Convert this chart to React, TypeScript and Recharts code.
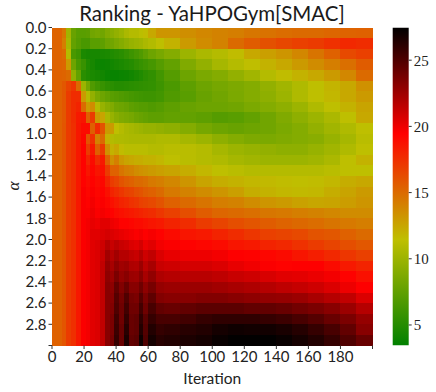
import { Bar, BarChart, Label, XAxis, YAxis } from "recharts";

// first iteration of each column block, the last block runs to 200
const colStarts = [0, 6, 9, 12, 15, 18, 21, 24, 27, 30, 33, 36, 39, 42, 45, 48, 51, 54, 57, 60, 65, 70, 80, 90, 100, 110, 120, 130, 140, 150, 160, 170, 180, 190];
const alphas = [0.0, 0.1, 0.2, 0.3, 0.4, 0.5, 0.6, 0.7, 0.8, 0.9, 1.0, 1.1, 1.2, 1.3, 1.4, 1.5, 1.6, 1.7, 1.8, 1.9, 2.0, 2.1, 2.2, 2.3, 2.4, 2.5, 2.6, 2.7, 2.8, 2.9];
const xTicks = [0, 20, 40, 60, 80, 100, 120, 140, 160, 180, 200];
const yTicks = [0, 0.2, 0.4, 0.6, 0.8, 1.0, 1.2, 1.4, 1.6, 1.8, 2.0, 2.2, 2.4, 2.6, 2.8, 3.0];
const barTicks = [5, 10, 15, 20, 25];
const barRange = [3.45, 27.47];
const cmapColors = ["#008000", "#bfbf00", "#ff0000", "#000000"];

const rankings = [
  [15.3,14.5,10.2,7.8,7.2,7.2,7.3,8.2,8.4,8.2,8.8,9.2,9.6,10,10.6,11,11,11.3,11.6,12.4,13.2,13.2,13.5,13.8,14,14.2,14.5,14.7,14.9,15,15,15.2,15.3,15.4],
  [15.3,14.2,10.5,7.6,7,6.5,6.5,7.2,7.2,7.4,8,8.2,8.6,9,9.4,9.8,10,10.2,10.6,10.9,11.4,12,13,13.6,14,15,15.6,16.1,16.5,16.8,17,17.4,17.8,17.6],
  [15.3,15,11,6.5,6,4.6,4.4,4.4,4.4,4.5,4.6,4.8,5,5.2,5.6,6,6.4,6.8,7.4,8,8.5,9,10,10.6,11,11.6,12.4,12.8,13.2,13.8,14.6,15.4,16.4,16.8],
  [15.3,15.2,13,8,6.5,5.8,4.8,4.4,4,3.9,4,4.2,4.4,4.6,4.8,5,5.4,5.7,6,6.4,7,7.6,8.8,9.6,10.4,11,11.5,12,12.4,13,13.6,14.2,14.8,15.6],
  [15.4,15.3,15,9.5,7.6,5.2,4.8,4.6,4.4,4.2,3.9,3.8,3.8,3.9,4,4.2,4.5,4.8,5.2,5.5,6.2,7,8,8.6,9,9.6,10.2,11,11.6,12,12.4,13,13.8,15],
  [15.4,15.8,16.6,17.2,15,10,8.4,6.8,6.2,5.8,5.4,5.2,5,5,5.1,5.2,5.3,5.4,5.5,5.6,6,6.6,7.4,8,8.4,8.7,9,9.6,10.2,10.8,11.4,11.9,12.4,13.4],
  [15.4,15.8,17,17.6,17.6,13,11,9.6,8.6,8,7.6,7.2,7,6.8,6.6,6.4,6.2,6.1,6,6,6.2,6.8,7.2,7.8,8.2,8.6,9,9.4,10,10.8,11.4,11.8,12.4,13],
  [15.4,15.8,17,17.6,18,15,13,13.6,11,9.8,9.2,8.8,8.2,8,7.8,7.4,7.2,7,7,6.8,7,7.4,7.8,8,8,8.2,8.6,9,9.4,10,10.8,11.4,12,12.6],
  [15.4,15.8,17,17.6,18.4,18.6,15.5,17,13,12.6,10.6,9.8,9.2,8.8,8.6,8.4,8,7.8,7.6,7.4,7.4,7.6,7.6,7.4,7,7.2,7.6,8.2,8.8,9.4,10,10.6,11.4,12.4],
  [15.4,15.9,17,17.5,18.5,19,19,15.5,17.6,16,13,13,11.4,11,10.6,10.4,10.2,10,9.8,9.8,9.6,9.4,9,8.4,8,7.8,8,8.2,8.6,9,9.6,10.2,10.8,11.4],
  [15.4,15.9,17,17.5,18.5,19.2,16,17.4,14,15,12,11,10.8,10.8,10.7,10.6,10.6,10.6,10.6,10.6,10.8,10.8,10.4,10,9.4,9,8.7,8.6,8.8,9,9.2,9.8,10.4,11.2],
  [15.4,15.9,17,17.5,18.5,19.4,17,18.4,15.5,17,13.4,12,12.4,11.6,11.2,11.2,11.2,11.2,11.2,11,11,11.2,11.2,11,10.4,10,9.8,9.6,9.4,9.4,9.8,10.2,10.8,11.4],
  [15.4,15.9,17,17.5,18.5,19.4,18,19,17.6,18.4,15.4,13.4,14.2,13,12.6,12.4,12.2,12.2,12,12,11.8,11.4,11.2,11,10.8,10.4,10.2,10,10,10,10.2,10.6,11.4,12],
  [15.4,15.9,17,17.5,18.5,19.4,18.6,19.2,18.6,18.8,17,15.4,15.4,14.6,14.2,14,13.6,13.4,13.2,13,12.8,12.6,12.2,11.8,11.4,11.2,11,11,11,11,11,11.2,11.4,11.4],
  [15.4,15.9,17,17.5,18.5,19.4,19,19.4,19,19.2,18,17,16.6,16,15.6,15.4,15,15,14.8,14.4,14.2,13.8,13.2,12.6,12.2,12,11.8,11.7,11.6,11.5,11.6,11.8,12.2,12.4],
  [15.4,15.9,17,17.5,18.5,19.6,19.2,19.6,19.2,19.4,18.8,18,17.6,17.2,16.8,16.6,16.2,16,15.6,15.4,15,14.4,14,13.6,13.2,12.8,12.2,12,11.8,11.7,11.8,12.2,12.6,13],
  [15.4,15.9,17,17.5,18.5,19.6,19.4,19.8,19.4,19.6,19.2,18.8,18.4,18,17.8,17.4,17.2,16.8,16.6,16.4,16,15.4,15,14.6,14.2,14,13.6,13.2,13,12.7,12.5,12.6,12.9,13.2],
  [15.4,15.9,17,17.5,18.5,19.6,19.6,20,19.6,19.8,19.6,19.4,19,18.8,18.6,18.4,18.2,18,17.8,17.6,17.2,16.8,16.2,15.6,15.2,15,14.8,14.5,14.4,14.2,14,13.8,13.6,13.6],
  [15.4,15.9,17,17.5,18.5,19.6,19.8,20.2,20,20.4,20.4,20,19.8,19.4,19.4,19.2,19,19,18.8,18.6,18.4,18,17.6,17,16.6,16.2,15.9,15.6,15.3,15.1,14.9,14.6,14.4,14.2],
  [15.4,15.9,17,17.5,18.5,19.6,19.8,20.4,20.4,20.6,20.8,20.6,20.4,20.2,20,19.8,19.6,19.8,19.5,19.7,19.4,19,18.6,18.4,18,17.6,17.2,16.8,16.6,16.4,16,15.8,15.4,15],
  [15.4,15.9,17,17.5,18.5,19.6,19.8,20.4,20.6,21,21.8,21.2,21.6,21.2,21,20.6,20.4,20.8,20.1,20.4,19.8,19.6,19.4,19.2,19,18.6,18.4,18,17.8,17.4,17,16.6,16.2,15.8],
  [15.4,15.9,17,17.5,18.5,19.6,19.8,20.4,20.6,21.2,22.4,21.8,22.4,21.8,21.8,21.4,21.2,21.8,21,21.4,20.6,20.2,20,20,19.8,19.5,19.4,19.2,19,18.6,18.2,17.8,17.2,16.8],
  [15.4,15.9,17,17.5,18.5,19.6,19.8,20.4,20.6,21.4,22.8,22.2,23,22.4,22.6,22,21.9,22.6,21.6,22.2,21.2,21,20.8,20.8,20.6,20.2,19.9,19.6,19.4,19.5,19.5,19,18.4,18],
  [15.4,15.9,17,17.5,18.5,19.6,19.8,20.4,20.6,21.4,23,22.6,23.6,22.8,23.2,22.6,22.5,23.2,22.2,22.9,22,21.8,21.7,21.7,21.5,21.2,21,20.7,20.4,20.3,20.1,19.8,19.4,18.8],
  [15.4,15.9,17,17.5,18.5,19.6,19.8,20.4,20.6,21.4,23.2,23,24.4,23.4,24.2,23.2,23.2,24,23,23.7,22.8,22.6,22.6,22.6,22.4,22.2,22,21.8,21.5,21.3,21,20.6,20,19.5],
  [15.4,15.9,17,17.5,18.5,19.6,19.8,20.4,20.6,21.4,23.2,23.2,24.8,23.8,25,23.8,23.6,24.8,23.6,24.5,23.4,23.2,23.2,23.4,23.4,23.2,23,22.9,22.8,22.6,22.2,21.8,21.4,20.6],
  [15.4,15.9,17,17.5,18.5,19.6,19.8,20.4,20.6,21.4,23.2,23.4,25,24,25.4,24,24,25.4,24,25.2,24.4,24.2,24.4,24.6,24.6,24.6,24.4,24.4,24.2,23.9,23.6,23.2,22.6,21.8],
  [15.4,15.9,17,17.5,18.5,19.6,19.8,20.4,20.6,21.4,23.2,23.6,25.4,24,25.8,24.2,24.4,26,24.6,25.8,25.2,25.2,25.4,25.8,26,26,26,25.8,25.6,25.2,24.8,24.2,23.6,22.8],
  [15.4,15.9,17,17.5,18.5,19.6,19.8,20.4,20.6,21.4,23.2,23.6,25.6,24.2,26.2,24.2,24.4,26.4,24.8,26.4,25.8,26,26.2,26.4,26.8,27,26.9,26.9,26.7,26.3,25.8,25.2,24.4,23.2],
  [15.4,15.9,17,17.5,18.5,19.6,19.8,20.4,20.6,21.4,23.2,23.8,25.8,24.2,26.6,24.4,24.6,27,25,26.8,26.2,26.4,26.6,26.8,27.2,27.4,27.4,27.4,27.2,26.8,26.4,25.8,25,24.2],
];

const LABEL_FONT = "Lato, 'Open Sans', sans-serif";
const SERIF_FONT = "'Liberation Serif', serif";

function hexToRgb(hex: string) {
  return [1, 3, 5].map((i) => parseInt(hex.slice(i, i + 2), 16));
}

// same three-segment map as the colorbar
function rankColor(v: number) {
  const t = Math.min(0.9999, Math.max(0, (v - barRange[0]) / (barRange[1] - barRange[0]))) * (cmapColors.length - 1);
  const seg = Math.floor(t);
  const a = hexToRgb(cmapColors[seg]);
  const b = hexToRgb(cmapColors[seg + 1]);
  const rgb = a.map((c, i) => Math.round(c + (b[i] - c) * (t - seg)));
  return `rgb(${rgb.join(",")})`;
}

const colSpans = colStarts.map((s, j) => (colStarts[j + 1] ?? 200) - s);

const chartData = alphas.map((alpha) => {
  const row: Record<string, number> = { alpha };
  colSpans.forEach((span, j) => {
    row[`c${j}`] = span;
  });
  return row;
});

const colorbarData = [{ name: "rank", range: barRange }];

const tickStyle = { fontFamily: LABEL_FONT, fontSize: 15, fill: "#222" };

export default function App() {
  return (
    <div style={{ position: "absolute", left: 0, top: 0, width: 436, height: 392, background: "#fff" }}>
      <div
        style={{
          position: "absolute",
          left: 52,
          width: 320,
          top: 0,
          textAlign: "center",
          fontFamily: LABEL_FONT,
          fontSize: 20.5,
          lineHeight: "26px",
          color: "#1a1a1a",
        }}
      >
        Ranking - YaHPOGym[SMAC]
      </div>
      <BarChart
        width={436}
        height={392}
        data={chartData}
        layout="vertical"
        barCategoryGap={0}
        margin={{ top: 27.5, right: 63.5, bottom: 0, left: 0 }}
        style={{ position: "absolute", left: 0, top: 0 }}
      >
        <XAxis
          type="number"
          domain={[0, 200]}
          ticks={xTicks}
          interval={0}
          height={46.5}
          axisLine={false}
          tickSize={3.5}
          tickLine={{ stroke: "#333" }}
          tick={tickStyle}
          tickFormatter={(v: number) => (v === 200 ? "" : String(v))}
        >
          <Label value="Iteration" position="insideBottom" offset={8} style={{ fontFamily: LABEL_FONT, fontSize: 15.5, fill: "#222" }} />
        </XAxis>
        <YAxis yAxisId="rows" type="category" dataKey="alpha" hide />
        <YAxis
          yAxisId="alpha"
          type="number"
          dataKey="alpha"
          domain={[0, 3]}
          allowDataOverflow
          ticks={yTicks}
          interval={0}
          width={52}
          axisLine={false}
          tickSize={3.5}
          tickLine={{ stroke: "#333" }}
          tick={tickStyle}
          tickFormatter={(v: number) => (v === 3 ? "" : v.toFixed(1))}
        >
          <Label value="α" angle={-90} position={{ x: 19, y: 154 }} style={{ fontFamily: SERIF_FONT, fontStyle: "italic", fontSize: 17, fill: "#222" }} />
        </YAxis>
        {colSpans.map((_, j) => (
          <Bar
            key={j}
            yAxisId="rows"
            dataKey={`c${j}`}
            stackId="cells"
            isAnimationActive={false}
            shape={(p: any) => (
              <rect x={p.x} y={p.y} width={p.width} height={p.height} fill={rankColor(rankings[p.index][j])} shapeRendering="crispEdges" />
            )}
          />
        ))}
      </BarChart>
      <BarChart
        width={44}
        height={392}
        data={colorbarData}
        barCategoryGap={0}
        margin={{ top: 27.5, right: 0, bottom: 46.5, left: 0.7 }}
        style={{ position: "absolute", left: 392, top: 0 }}
      >
        <defs>
          <linearGradient id="rankCmap" x1="0" y1="1" x2="0" y2="0">
            {cmapColors.map((c, i) => (
              <stop key={c} offset={i / (cmapColors.length - 1)} stopColor={c} />
            ))}
          </linearGradient>
        </defs>
        <XAxis dataKey="name" hide />
        <YAxis
          orientation="right"
          type="number"
          domain={barRange}
          allowDataOverflow
          ticks={barTicks}
          interval={0}
          width={27.3}
          axisLine={false}
          tickSize={3}
          tickLine={{ stroke: "#333" }}
          tick={{ fontFamily: SERIF_FONT, fontSize: 15, fill: "#222" }}
        />
        <Bar dataKey="range" fill="url(#rankCmap)" isAnimationActive={false} />
      </BarChart>
    </div>
  );
}
